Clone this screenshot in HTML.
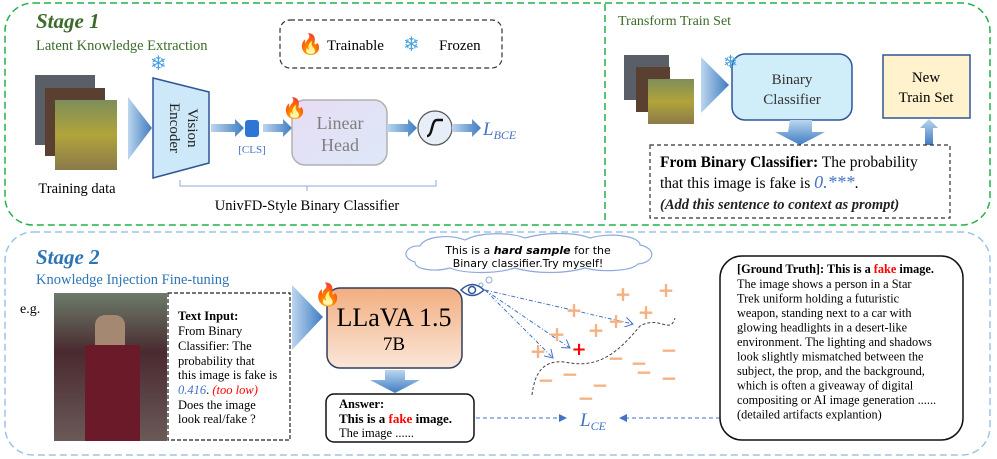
<!DOCTYPE html>
<html><head><meta charset="utf-8"><style>
html,body{margin:0;padding:0;background:#fff;}
svg{display:block;font-family:"Liberation Serif",serif;}
</style></head><body>
<svg width="997" height="459" viewBox="0 0 997 459" xmlns="http://www.w3.org/2000/svg">
<defs>
<linearGradient id="arr" x1="0" x2="1"><stop offset="0" stop-color="#bcd6ee"/><stop offset="1" stop-color="#3f7cc2"/></linearGradient>
<linearGradient id="arrv" x1="0" x2="0" y1="0" y2="1"><stop offset="0" stop-color="#bcd6ee"/><stop offset="1" stop-color="#3f7cc2"/></linearGradient>
<linearGradient id="lin" x1="0" x2="1" y1="0" y2="1"><stop offset="0" stop-color="#e8dcf4"/><stop offset="1" stop-color="#dce8f8"/></linearGradient>
<linearGradient id="llava" x1="0" x2="0" y1="0" y2="1"><stop offset="0" stop-color="#f2ae80"/><stop offset="1" stop-color="#fbe6d8"/></linearGradient>
<linearGradient id="img1" x1="0" x2="0" y1="0" y2="1"><stop offset="0" stop-color="#7d8d5a"/><stop offset="0.5" stop-color="#b1a43a"/><stop offset="1" stop-color="#8a7a4a"/></linearGradient>
<linearGradient id="photo" x1="0" x2="0" y1="0" y2="1"><stop offset="0" stop-color="#6c7c6a"/><stop offset="0.4" stop-color="#4a2a30"/><stop offset="1" stop-color="#6a5a58"/></linearGradient>
<marker id="ah" markerWidth="8" markerHeight="8" refX="7" refY="4" orient="auto"><path d="M0,0 L8,4 L0,8 Z" fill="#4472c4"/></marker>
<marker id="ao" markerWidth="10" markerHeight="10" refX="8" refY="5" orient="auto"><path d="M0,0 L8,5 L0,10" fill="none" stroke="#4472c4"/></marker>
</defs>

<rect x="5" y="3" width="985" height="222" rx="28" fill="none" stroke="#22b14c" stroke-width="1.5" stroke-dasharray="7,4"/>
<line x1="605" y1="4" x2="605" y2="224" stroke="#22b14c" stroke-width="1.5" stroke-dasharray="7,4"/>
<text x="36" y="28" font-size="21" font-weight="bold" font-style="italic" fill="#3b6b2a">Stage 1</text>
<text x="36" y="50" font-size="14.5" fill="#3b6b2a">Latent Knowledge Extraction</text>

<rect x="280" y="20" width="222" height="48" rx="10" fill="none" stroke="#333" stroke-width="1.2" stroke-dasharray="5,3"/>
<text x="298" y="51" font-size="20">🔥</text>
<text x="327" y="50" font-size="15">Trainable</text>
<text x="403" y="51" font-size="20" fill="#4aa3e0">❄</text>
<text x="439" y="50" font-size="15">Frozen</text>

<rect x="35" y="75" width="60" height="70" fill="#5a5e66"/>
<rect x="45" y="88" width="60" height="68" fill="#5a4030"/>
<rect x="55" y="100" width="62" height="70" fill="url(#img1)"/>
<text x="77" y="193" font-size="14.5" text-anchor="middle">Training data</text>
<path d="M128,97 L152,128 L128,160 Z" fill="url(#arr)"/>

<path d="M153,78 L209,92 L209,163 L153,178 Z" fill="#cde8f8" stroke="#2f5597" stroke-width="1.5"/>
<text x="150" y="70" font-size="20" fill="#4aa3e0">❄</text>
<text transform="translate(184,128) rotate(90)" font-size="15" text-anchor="middle" fill="#222"><tspan x="0" y="-4">Vision</tspan><tspan x="0" y="14">Encoder</tspan></text>
<path d="M211,124 L235,124 L235,119 L244,128 L235,137 L235,132 L211,132 Z" fill="url(#arr)"/>
<rect x="245" y="120" width="14" height="17" rx="3" fill="#2e75d6"/>
<text x="252" y="153" font-size="11" fill="#4472c4" text-anchor="middle">[CLS]</text>
<path d="M263,124 L283,124 L283,119 L292,128 L283,137 L283,132 L263,132 Z" fill="url(#arr)"/>
<rect x="292" y="100" width="95" height="65" rx="13" fill="url(#lin)" stroke="#b0b0b0" stroke-width="1.5"/>
<text x="282" y="115" font-size="20">🔥</text>
<text x="340" y="129" font-size="18" fill="#7f7f7f" text-anchor="middle">Linear</text>
<text x="340" y="151" font-size="18" fill="#7f7f7f" text-anchor="middle">Head</text>
<path d="M387,124 L408,124 L408,119 L417,128 L408,137 L408,132 L387,132 Z" fill="url(#arr)"/>
<circle cx="435" cy="128" r="17" fill="#e8eef8" stroke="#555" stroke-width="1.2"/>
<path d="M427,136 C433,136 431,120 437,120 L443,120" fill="none" stroke="#111" stroke-width="2.5"/>
<path d="M452,124 L472,124 L472,119 L481,128 L472,137 L472,132 L452,132 Z" fill="url(#arr)"/>
<text x="483" y="135" font-size="19" font-style="italic" fill="#4472c4">L<tspan font-size="12" dy="4">BCE</tspan></text>
<path d="M180,180 L180,186 L436,186 L436,180 M307,186 L307,191" fill="none" stroke="#8faadc" stroke-width="1"/>
<text x="307" y="210" font-size="14.5" text-anchor="middle">UnivFD-Style Binary Classifier</text>

<text x="618" y="25" font-size="14" fill="#3b6b2a">Transform Train Set</text>
<rect x="624" y="55" width="45" height="45" fill="#5a5e66"/>
<rect x="636" y="67" width="34" height="45" fill="#5a4030"/>
<rect x="648" y="79" width="46" height="45" fill="url(#img1)"/>
<path d="M701,57 L729,85 L701,113 Z" fill="url(#arr)"/>
<rect x="732" y="54" width="120" height="66" rx="13" fill="#d0eef9" stroke="#2f5597" stroke-width="1.5"/>
<text x="723" y="68" font-size="18" fill="#4aa3e0">❄</text>
<text x="792" y="84" font-size="15" text-anchor="middle" fill="#333">Binary</text>
<text x="792" y="104" font-size="15" text-anchor="middle" fill="#333">Classifier</text>
<rect x="883" y="55" width="87" height="63" fill="#fff2cc" stroke="#2f5597" stroke-width="1.5"/>
<text x="926" y="82" font-size="15" text-anchor="middle">New</text>
<text x="926" y="102" font-size="15" text-anchor="middle">Train Set</text>
<path d="M790,120 L812,120 L812,132 L825,132 L800,145 L775,132 L788,132 Z" fill="url(#arrv)"/>
<path d="M925,145 L925,128 L920,128 L929,119 L938,128 L933,128 L933,145 Z" fill="url(#arrv)"/>
<rect x="650" y="145" width="300" height="73" fill="none" stroke="#333" stroke-width="1.2" stroke-dasharray="4,3"/>
<text x="660" y="167" font-size="15.5"><tspan font-weight="bold">From Binary Classifier:</tspan> The probability</text>
<text x="660" y="188" font-size="15.5">that this image is fake is <tspan font-style="italic" fill="#4472c4" font-size="18">0.***</tspan>.</text>
<text x="660" y="209" font-size="14.5" font-weight="bold" font-style="italic" fill="#222">(Add this sentence to context as prompt)</text>

<rect x="5" y="232" width="985" height="223" rx="28" fill="none" stroke="#9dc3e6" stroke-width="1.5" stroke-dasharray="7,4"/>
<text x="36" y="264" font-size="21" font-weight="bold" font-style="italic" fill="#2e75b6">Stage 2</text>
<text x="36" y="284" font-size="14.5" fill="#2e75b6">Knowledge Injection Fine-tuning</text>
<text x="20" y="313" font-size="14">e.g.</text>
<rect x="54" y="293" width="113" height="148" fill="url(#photo)"/>
<rect x="95" y="315" width="30" height="40" rx="10" fill="#a58872"/>
<rect x="85" y="345" width="55" height="96" fill="#6a1a28"/>
<rect x="168" y="293" width="122" height="147" fill="none" stroke="#222" stroke-width="1.2" stroke-dasharray="4,2"/>
<g font-size="12.5">
<text x="178" y="320" font-weight="bold">Text Input:</text>
<text x="178" y="335">From Binary</text>
<text x="178" y="350">Classifier: The</text>
<text x="178" y="365">probability that</text>
<text x="178" y="379">this image is fake is</text>
<text x="178" y="394"><tspan fill="#4472c4" font-style="italic">0.416</tspan>. <tspan fill="#ff0000" font-style="italic">(too low)</tspan></text>
<text x="178" y="409">Does the image</text>
<text x="178" y="423">look real/fake ?</text>
</g>
<path d="M292,285 L323,317 L292,350 Z" fill="url(#arr)"/>

<rect x="327" y="288" width="135" height="80" rx="13" fill="url(#llava)" stroke="#2f3f5f" stroke-width="1.5"/>
<text x="314" y="302" font-size="22">🔥</text>
<text x="394" y="326" font-size="26" text-anchor="middle">LLaVA 1.5</text>
<text x="394" y="350" font-size="19" text-anchor="middle">7B</text>
<path d="M385,370 L405,370 L405,380 L420,380 L395,393 L370,380 L385,380 Z" fill="url(#arrv)"/>
<rect x="326" y="394" width="148" height="48" rx="8" fill="#fff" stroke="#111" stroke-width="1.5"/>
<text x="339" y="408" font-size="12.5" font-weight="bold">Answer:</text>
<text x="339" y="423" font-size="13" font-weight="bold">This is a <tspan fill="#ff0000">fake</tspan> image.</text>
<text x="339" y="437" font-size="12.5">The image ......</text>
<line x1="476" y1="418" x2="566" y2="418" stroke="#4472c4" stroke-width="1" stroke-dasharray="4,3" marker-end="url(#ah)"/>
<text x="580" y="426" font-size="19" font-style="italic" fill="#4472c4">L<tspan font-size="12" dy="4">CE</tspan></text>
<line x1="720" y1="418" x2="620" y2="418" stroke="#4472c4" stroke-width="1" stroke-dasharray="4,3" marker-end="url(#ah)"/>

<path d="M415,262 C400,258 405,245 420,246 C425,236 450,234 465,240 C480,232 510,232 525,238 C545,232 575,232 590,238 C610,232 640,236 640,245 C656,248 656,262 638,264 C630,272 600,272 585,268 C565,274 535,274 515,268 C495,274 465,274 450,268 C435,272 415,270 415,262 Z" fill="#fff" stroke="#8faadc" stroke-width="1.2"/>
<text x="528" y="254" font-size="11" text-anchor="middle" font-family="'DejaVu Sans',sans-serif">This is a <tspan font-weight="bold" font-style="italic">hard sample</tspan> for the</text>
<text x="528" y="267" font-size="11" text-anchor="middle" font-family="'DejaVu Sans',sans-serif">Binary classifier.Try myself!</text>
<circle cx="489" cy="280" r="3" fill="#fff" stroke="#8faadc"/>
<circle cx="481" cy="285" r="2" fill="#fff" stroke="#8faadc"/>
<path d="M461,290 Q472,279 484,290 Q472,301 461,290 Z" fill="#fff" stroke="#2f5597" stroke-width="1.5"/>
<circle cx="472" cy="290" r="3.5" fill="none" stroke="#2f5597" stroke-width="1.5"/>
<g stroke="#4472c4" stroke-width="1" fill="none" stroke-dasharray="4,2,1,2">
<line x1="485" y1="290" x2="633" y2="324" marker-end="url(#ao)"/>
<line x1="485" y1="290" x2="570" y2="348" marker-end="url(#ao)"/>
<line x1="485" y1="290" x2="553" y2="358" marker-end="url(#ao)"/>
</g>
<path d="M532,395 C535,370 545,360 565,362 C600,370 620,350 640,326 C660,315 670,335 675,318" fill="none" stroke="#444" stroke-width="1" stroke-dasharray="3,2"/>
<g font-size="20" font-weight="bold" fill="#f4b183" font-family="'DejaVu Sans',sans-serif" text-anchor="middle">
<text x="574" y="317">+</text><text x="623" y="301">+</text><text x="666" y="297">+</text>
<text x="646" y="319">+</text><text x="596" y="337">+</text><text x="616" y="328">+</text>
<text x="557" y="341">+</text><text x="538" y="358">+</text>
<text x="546" y="387">−</text><text x="570" y="381">−</text><text x="600" y="392">−</text>
<text x="586" y="405">−</text><text x="616" y="365">−</text><text x="639" y="370">−</text>
<text x="644" y="379">−</text><text x="669" y="357">−</text><text x="669" y="385">−</text>
</g>
<text x="579" y="355" font-size="18" font-weight="bold" fill="#ff0000" font-family="'DejaVu Sans',sans-serif" text-anchor="middle">+</text>

<rect x="720" y="256" width="243" height="184" rx="22" fill="#fff" stroke="#111" stroke-width="1.5"/>
<g font-size="12.3">
<text x="737" y="273" font-weight="bold">[Ground Truth]:  This is a <tspan fill="#ff0000">fake</tspan> image.</text>
<text x="737" y="288">The image shows a person in a Star</text>
<text x="737" y="302.5">Trek uniform holding a futuristic</text>
<text x="737" y="317">weapon, standing next to a car with</text>
<text x="737" y="331.5">glowing headlights in a desert-like</text>
<text x="737" y="346">environment. The lighting and shadows</text>
<text x="737" y="360.5">look slightly mismatched between the</text>
<text x="737" y="375">subject, the prop, and the background,</text>
<text x="737" y="389.5">which is often a giveaway of digital</text>
<text x="737" y="404">compositing or AI image generation ......</text>
<text x="737" y="418.5">(detailed artifacts explantion)</text>
</g>
</svg>
</body></html>
